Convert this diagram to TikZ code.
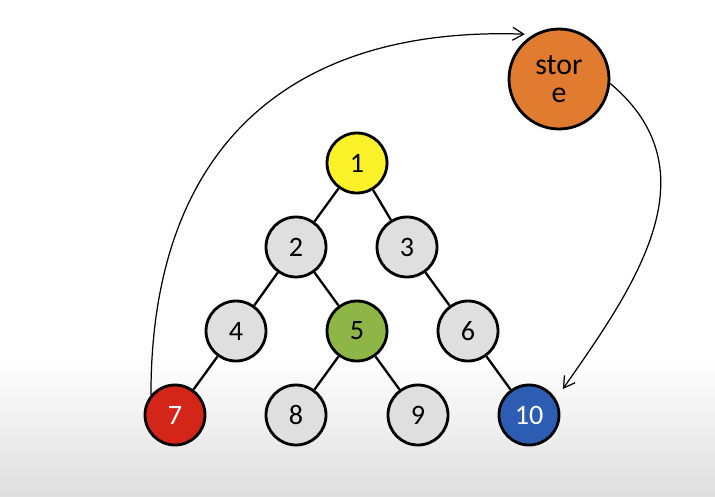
\documentclass[tikz,border=0pt]{standalone}
\usepackage{fontspec}
\setmainfont{Carlito}
\usetikzlibrary{positioning, arrows.meta}
\definecolor{nodegray}{HTML}{DFDFDF}
\definecolor{rootyellow}{HTML}{FBF128}
\definecolor{midgreen}{HTML}{8DB646}
\definecolor{leafred}{HTML}{D42519}
\definecolor{leafblue}{HTML}{2D5DB3}
\definecolor{storeorange}{HTML}{E07B2F}
\tikzset{
  treenode/.style={
    circle, draw, line width=1.6pt,
    minimum size=1.2cm, inner sep=0pt,
    fill=nodegray, font=\fontsize{16}{19}\selectfont
  },
  storenode/.style={
    circle, draw, line width=1.6pt,
    minimum size=2.0cm, inner sep=0pt,
    fill=storeorange, align=center,
    font=\fontsize{17}{16}\selectfont
  },
  treeedge/.style={line width=1.3pt},
  hop/.style={-{Straight Barb[length=2.2mm,width=2.6mm]}, line width=0.7pt},
}

\begin{document}
\begin{tikzpicture}[node distance=1.68cm and 1.22cm, on grid]
  % background with grey fade at the bottom
  \fill[white] (0,0) rectangle (14.3,9.92);
  \shade[top color=white, bottom color=gray!25] (0,0) rectangle (14.3,2.8);
  \useasboundingbox (0,0) rectangle (14.3,9.92);

  \node[treenode, fill=rootyellow] (n1) at (7.14,6.66) {1};
  \node[treenode, below left=of n1] (n2) {2};
  \node[treenode, below right=1.68cm and 1.0cm of n1] (n3) {3};
  \node[treenode, below left=1.68cm and 1.2cm of n2] (n4) {4};
  \node[treenode, fill=midgreen, below right=of n2] (n5) {5};
  \node[treenode, below right=of n3] (n6) {6};
  \node[treenode, fill=leafred, text=white, below left=of n4] (n7) {7};
  \node[treenode, below left=of n5] (n8) {8};
  \node[treenode, below right=of n5] (n9) {9};
  \node[treenode, fill=leafblue, text=white, below right=of n6] (n10) {10};

  \node[storenode] (store) at (11.18,8.34) {stor\\e};

  \draw[treeedge] (n1) -- (n2);
  \draw[treeedge] (n1) -- (n3);
  \draw[treeedge] (n2) -- (n4);
  \draw[treeedge] (n2) -- (n5);
  \draw[treeedge] (n3) -- (n6);
  \draw[treeedge] (n4) -- (n7);
  \draw[treeedge] (n5) -- (n8);
  \draw[treeedge] (n5) -- (n9);
  \draw[treeedge] (n6) -- (n10);

  \draw[hop, shorten >=0.17cm] (n7.140) to[out=90, in=178, looseness=1.2] (store.120);
  \draw[hop, shorten >=0.24cm] (store.-5) to[out=-40, in=55, looseness=1.1] (n10.31);
\end{tikzpicture}
\end{document}
